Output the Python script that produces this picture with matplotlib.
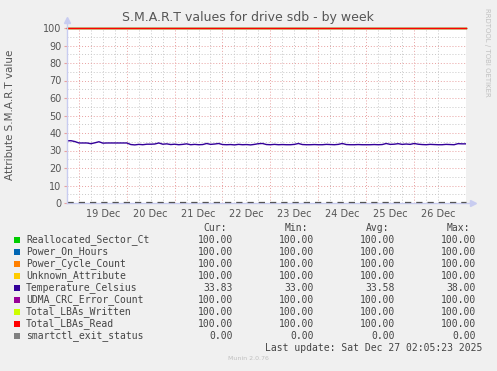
import numpy as np
import matplotlib
matplotlib.use("Agg")
import matplotlib.pyplot as plt
import matplotlib.dates as mdates
from matplotlib.patches import Rectangle

# data
names = ["Reallocated_Sector_Ct", "Power_On_Hours", "Power_Cycle_Count",
         "Unknown_Attribute", "Temperature_Celsius", "UDMA_CRC_Error_Count",
         "Total_LBAs_Written", "Total_LBAs_Read", "smartctl_exit_status"]
colors = ["#00CC00", "#0066B3", "#FF8000", "#FFCC00", "#330099",
          "#990099", "#CCFF00", "#FF0000", "#808080"]
cur = ["100.00", "100.00", "100.00", "100.00", "33.83", "100.00", "100.00", "100.00", "0.00"]
mins = ["100.00", "100.00", "100.00", "100.00", "33.00", "100.00", "100.00", "100.00", "0.00"]
avgs = ["100.00", "100.00", "100.00", "100.00", "33.58", "100.00", "100.00", "100.00", "0.00"]
maxs = ["100.00", "100.00", "100.00", "100.00", "38.00", "100.00", "100.00", "100.00", "0.00"]
const_vals = [100, 100, 100, 100, None, 100, 100, 100, 0]

# temperature, one sample every 2 hours starting 2025-12-18 18:05
temps = [
    35.5, 35.6, 35.1, 34.3, 34.3, 34.3, 33.9, 34.4, 35.0, 34.2,
    34.3, 34.3, 34.3, 34.3, 34.3, 34.3, 33.4, 33.2, 33.5, 33.3,
    33.6, 33.6, 33.7, 34.3, 33.6, 33.8, 33.4, 33.6, 33.3, 33.5,
    33.8, 33.3, 33.5, 33.3, 33.4, 34.0, 33.5, 33.7, 34.0, 33.4,
    33.3, 33.4, 33.2, 33.5, 33.3, 33.4, 33.2, 33.5, 33.9, 34.0,
    33.4, 33.3, 33.5, 33.3, 33.4, 33.3, 33.3, 33.5, 34.0, 33.4,
    33.3, 33.3, 33.4, 33.3, 33.3, 33.5, 33.4, 33.3, 33.5, 34.0,
    33.4, 33.3, 33.3, 33.4, 33.3, 33.3, 33.3, 33.4, 33.3, 33.4,
    34.0, 33.5, 33.6, 33.9, 33.5, 33.7, 33.5, 34.0, 33.6, 33.4,
    33.3, 33.5, 33.4, 33.3, 33.3, 33.5, 33.4, 33.3, 33.9, 33.8,
    33.8,
]
start = np.datetime64("2025-12-18T18:05")
end = np.datetime64("2025-12-27T02:05")
times = start + np.arange(len(temps)) * np.timedelta64(2, "h")
day_labels = ["19 Dec", "20 Dec", "21 Dec", "22 Dec", "23 Dec", "24 Dec", "25 Dec", "26 Dec"]

bg = "#F0F0F0"
fig = plt.figure(figsize=(4.97, 3.71), dpi=100, facecolor=bg)
W, H = 497, 371
ax = fig.add_axes([67 / W, 1 - 203 / H, 399 / W, 175 / H])
ax.set_facecolor("white")

t0 = mdates.date2num(start.astype("datetime64[s]").astype(object))
t1 = mdates.date2num(end.astype("datetime64[s]").astype(object))
tx = mdates.date2num(times.astype("datetime64[s]").astype(object))
ax.set_xlim(t0, t1)
ax.set_ylim(0, 100)

# grid: red dotted at midnight / every 10, grey dotted every 6h / every 5
for k in range(int((t1 - t0) * 4) + 2):
    x = np.floor(t0) + k * 0.25
    if x <= t0 or x >= t1:
        continue
    if abs(x - round(x)) < 1e-6:
        ax.axvline(x, color="#E8A0A0", lw=0.7, ls=(0, (1, 2)), zorder=1)
    else:
        ax.axvline(x, color="#C8C8C8", lw=0.7, ls=(0, (1, 2)), zorder=1)
for y in range(5, 100, 5):
    if y % 10 == 0:
        ax.axhline(y, color="#E8A0A0", lw=0.7, ls=(0, (1, 2)), zorder=1)
    else:
        ax.axhline(y, color="#C8C8C8", lw=0.7, ls=(0, (1, 2)), zorder=1)

# series
for n, c, v in zip(names, colors, const_vals):
    if v is None:
        ax.plot(tx, temps, color=c, lw=1.0, zorder=3)
    elif n == "smartctl_exit_status":
        ax.plot([t0, t1], [0.8, 0.8], color="#555555", lw=0.9, ls=(0, (5, 4)), zorder=4, clip_on=False)
    else:
        ax.plot([t0, t1], [v, v], color=c, lw=0.9, zorder=3, clip_on=False)

for s in ax.spines.values():
    s.set_visible(False)
ax.plot([t0, t0], [0, 104], color="#C8CCF0", lw=1, clip_on=False, zorder=5)
ax.plot([t0, t1 + 0.12], [0, 0], color="#C8CCF0", lw=1, clip_on=False, zorder=2)
ax.plot([t0], [104.5], marker="^", color="#C8CCF0", ms=4, clip_on=False)
ax.plot([t1 + 0.14], [0], marker=">", color="#C8CCF0", ms=4, clip_on=False)

ax.set_yticks(range(0, 101, 10))
ax.tick_params(axis="y", length=2, color="#E8A0A0", labelsize=7, labelcolor="#555555", pad=2)
noons = [np.floor(t0) + 1.5 + k for k in range(len(day_labels))]
ax.set_xticks(noons)
ax.set_xticklabels(day_labels)
ax.tick_params(axis="x", length=0, labelsize=7, labelcolor="#555555", pad=4)

fig.text(248 / W, 1 - 18 / H, "S.M.A.R.T values for drive sdb - by week",
         ha="center", va="center", fontsize=9, color="#555555")
fig.text(10 / W, 1 - 115 / H, "Attribute S.M.A.R.T value", rotation=90,
         ha="center", va="center", fontsize=7.5, color="#555555")
fig.text(487 / W, 1 - 52 / H, "RRDTOOL / TOBI OETIKER", rotation=-90,
         ha="center", va="center", fontsize=5, color="#C0C0C0")

# legend in pixel coords
lg = fig.add_axes([0, 0, 1, 1], facecolor="none")
lg.set_xlim(0, W)
lg.set_ylim(H, 0)
lg.axis("off")
mono = "DejaVu Sans Mono"
fs = 7
tc = "#444444"
col_x = [233, 314, 395, 476]
for x, h in zip(col_x, ["Cur:", "Min:", "Avg:", "Max:"]):
    lg.text(x - 6, 228, h, ha="right", va="center", family=mono, fontsize=fs, color=tc)
for i, (n, c) in enumerate(zip(names, colors)):
    y = 240 + 12 * i
    lg.add_patch(Rectangle((14, y - 3), 6, 6, facecolor=c, edgecolor="none"))
    lg.text(26, y, n, ha="left", va="center", family=mono, fontsize=fs, color=tc)
    for x, vals in zip(col_x, [cur, mins, avgs, maxs]):
        lg.text(x, y, vals[i], ha="right", va="center", family=mono, fontsize=fs, color=tc)
lg.text(482, 348, "Last update: Sat Dec 27 02:05:23 2025", ha="right", va="center",
        family=mono, fontsize=fs, color=tc)
lg.text(248, 359, "Munin 2.0.76", ha="center", va="center", fontsize=4.5, color="#C0C0C0")

fig.savefig("out.png", dpi=100, facecolor=bg)
